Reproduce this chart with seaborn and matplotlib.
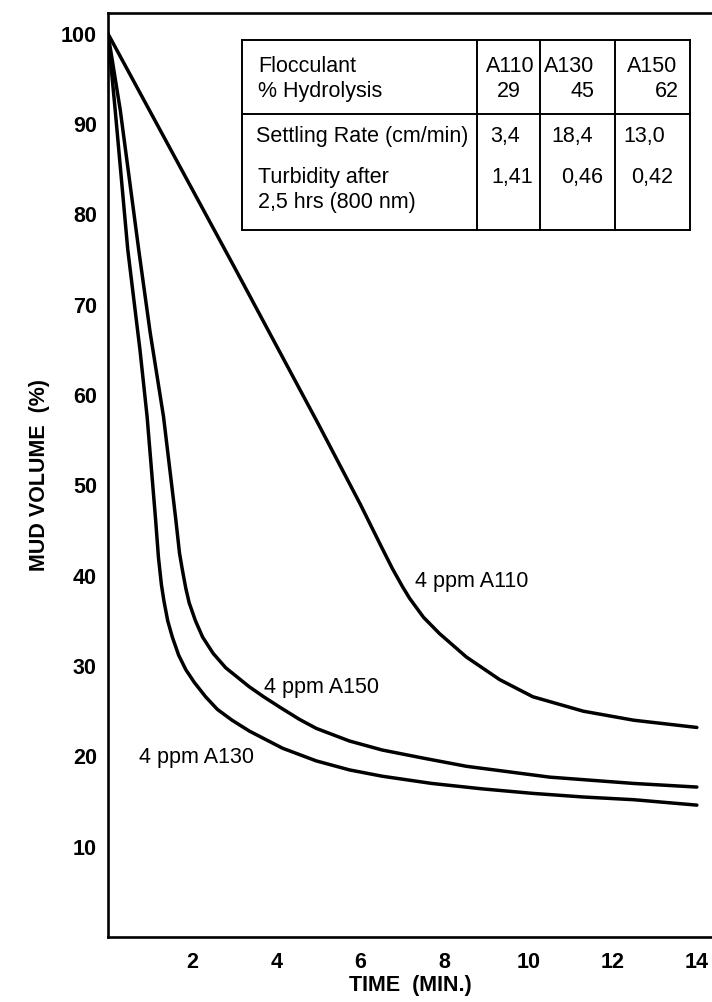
import matplotlib
matplotlib.use("Agg")
import matplotlib.pyplot as plt
from matplotlib.lines import Line2D
import seaborn as sns
import pandas as pd

# curves: time (min) / mud volume (%)
t_a110 = [0, 1, 2, 3, 4, 5, 6, 6.5, 6.76, 7.0, 7.17, 7.5, 7.88, 8.52, 9.31, 10.1, 11.3, 12.5, 14.0]
v_a110 = [100, 91.4, 82.8, 74.2, 65.5, 56.8, 47.9, 43.2, 40.8, 38.8, 37.5, 35.4, 33.6, 31.0, 28.5, 26.6, 25.0, 24.0, 23.2]

t_a130 = [0, 0.17, 0.47, 0.76, 0.93, 1.13, 1.2, 1.27, 1.33, 1.42, 1.53, 1.68, 1.85, 2.05, 2.32,
          2.6, 2.95, 3.36, 4.15, 4.95, 5.74, 6.52, 7.7, 8.9, 10.1, 11.3, 12.5, 14.0]
v_a130 = [100, 91.6, 76.1, 65.0, 57.6, 46.3, 42.0, 39.0, 37.2, 35.0, 33.2, 31.2, 29.6, 28.2, 26.6,
          25.2, 24.0, 22.8, 20.9, 19.5, 18.5, 17.8, 17.0, 16.4, 15.9, 15.5, 15.2, 14.6]

t_a150 = [0, 0.29, 0.73, 1.0, 1.32, 1.61, 1.7, 1.77, 1.85, 1.93, 2.08, 2.25, 2.5, 2.8, 3.36, 3.7,
          4.1, 4.55, 4.95, 5.74, 6.52, 7.5, 8.52, 10.5, 12.5, 14.0]
v_a150 = [100, 91.6, 76.1, 67.0, 57.6, 46.3, 42.5, 40.6, 38.6, 37.0, 35.0, 33.2, 31.4, 29.8, 27.7, 26.6,
          25.4, 24.1, 23.1, 21.7, 20.7, 19.8, 18.9, 17.7, 17.0, 16.6]

series_names = ["4 ppm A110", "4 ppm A130", "4 ppm A150"]

# table in the upper right
table_header = ["Flocculant", "% Hydrolysis"]
table_rows = ["Settling Rate (cm/min)", "Turbidity after", "2,5 hrs (800 nm)"]
flocculants = ["A110", "A130", "A150"]
hydrolysis = ["29", "45", "62"]
settling_rate = ["3,4", "18,4", "13,0"]
turbidity = ["1,41", "0,46", "0,42"]

x_ticks = [2, 4, 6, 8, 10, 12, 14]
y_ticks = [10, 20, 30, 40, 50, 60, 70, 80, 90, 100]

df = pd.concat([
    pd.DataFrame({"time": t_a110, "vol": v_a110, "series": series_names[0]}),
    pd.DataFrame({"time": t_a130, "vol": v_a130, "series": series_names[1]}),
    pd.DataFrame({"time": t_a150, "vol": v_a150, "series": series_names[2]}),
])

sns.set_theme(style="white")
plt.rcParams["font.family"] = ["Liberation Sans", "DejaVu Sans"]
plt.rcParams["text.color"] = "black"
plt.rcParams["axes.labelcolor"] = "black"

W, H = 712, 1002
fig = plt.figure(figsize=(W / 100, H / 100), dpi=100)
ax = fig.add_axes([108 / W, 1 - 937 / H, 1 - 108 / W, (937 - 13) / H])

sns.lineplot(data=df, x="time", y="vol", hue="series", units="series", estimator=None,
             sort=False, palette=["black"] * 3, linewidth=2.5, legend=False, ax=ax,
             solid_joinstyle="round", solid_capstyle="round")

ax.set_xlim(0, 14.36)
ax.set_ylim(0, 102.3)
ax.set_xticks(x_ticks)
ax.set_yticks(y_ticks)
ax.tick_params(direction="out", length=7, width=1.6, color="black", labelsize=15.5,
               labelcolor="black")
ax.tick_params(axis="y", pad=1)
ax.tick_params(axis="x", pad=4)
for lab in ax.get_xticklabels() + ax.get_yticklabels():
    lab.set_fontweight("bold")

for side in ["left", "bottom", "top"]:
    ax.spines[side].set_color("black")
    ax.spines[side].set_linewidth(1.9)
ax.spines["right"].set_visible(False)

ax.set_xlabel("TIME  (MIN.)", fontsize=15.5, fontweight="bold", labelpad=1)
ax.set_ylabel("MUD VOLUME  (%)", fontsize=15.5, fontweight="bold", labelpad=8)

# curve labels
lab_fs = 15.5
ax.text(7.29, 39.4, series_names[0], fontsize=lab_fs, va="center", ha="left")
ax.text(3.71, 27.6, series_names[2], fontsize=lab_fs, va="center", ha="left")
ax.text(0.74, 19.9, series_names[1], fontsize=lab_fs, va="center", ha="left")


def fx(px):
    return px / W


def fy(py):
    return 1 - py / H


# table frame
lw = 1.4
left, right, top, bottom = 242, 690, 40, 230
for (x0, y0, x1, y1) in [(left, top, right, top), (left, bottom, right, bottom),
                         (left, top, left, bottom), (right, top, right, bottom),
                         (left, 114, right, 114),
                         (477, top, 477, bottom), (540, top, 540, bottom), (615, top, 615, bottom)]:
    fig.add_artist(Line2D([fx(x0), fx(x1)], [fy(y0), fy(y1)], color="black", lw=lw,
                          solid_capstyle="projecting"))

fs = 15.5
fig.text(fx(258), fy(72), table_header[0], fontsize=fs, va="baseline")
fig.text(fx(258), fy(97), table_header[1], fontsize=fs, va="baseline")
fig.text(fx(256), fy(142), table_rows[0], fontsize=fs, va="baseline")
fig.text(fx(258), fy(183), table_rows[1], fontsize=fs, va="baseline")
fig.text(fx(258), fy(208), table_rows[2], fontsize=fs, va="baseline")

head_x = [510, 569, 652]
hyd_x = [509, 582, 667]
set_x = [505, 572, 644]
turb_x = [512, 582, 652]
for i in range(3):
    fig.text(fx(head_x[i]), fy(72), flocculants[i], fontsize=fs, va="baseline", ha="center")
    fig.text(fx(hyd_x[i]), fy(97), hydrolysis[i], fontsize=fs, va="baseline", ha="center")
    fig.text(fx(set_x[i]), fy(142), settling_rate[i], fontsize=fs, va="baseline", ha="center")
    fig.text(fx(turb_x[i]), fy(183), turbidity[i], fontsize=fs, va="baseline", ha="center")

fig.savefig("out.png", dpi=100)
